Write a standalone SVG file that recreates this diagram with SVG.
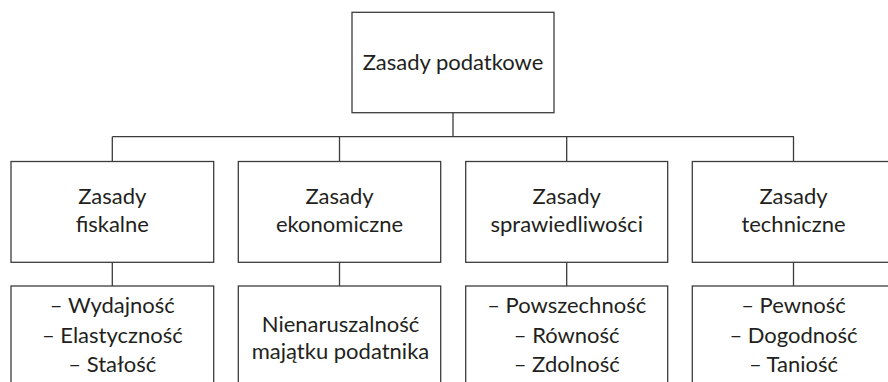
<svg xmlns="http://www.w3.org/2000/svg" width="888" height="382" viewBox="0 0 888 382">
<style>
.box{fill:#fff;stroke:#3c3c3c;stroke-width:1.3}
.ln{fill:none;stroke:#3c3c3c;stroke-width:1.3}
text{font-family:Lato,"Open Sans","Liberation Sans",sans-serif;font-size:22px;fill:#231f20;text-anchor:middle}
</style>
<rect width="888" height="382" fill="#fff"/>
<g id="connectors">
<path class="ln" d="M453,112.7V136.7M112.3,136.7H794M112.3,136.7V161.5M339.5,136.7V161.5M566.7,136.7V161.5M793.5,136.7V161.5"/>
<path class="ln" d="M112.3,262.3V286M339.5,262.3V286M566.7,262.3V286M793.5,262.3V286"/>
</g>
<g id="root">
<rect class="box" x="352" y="12.3" width="202" height="100.4"/>
<text x="453" y="70">Zasady podatkowe</text>
</g>
<g id="fiskalne">
<rect class="box" x="11" y="161.5" width="202.7" height="100.8"/>
<text x="112.3" y="204">Zasady</text>
<text x="112.3" y="232">fiskalne</text>
</g>
<g id="ekonomiczne">
<rect class="box" x="238.3" y="161.5" width="202.4" height="100.8"/>
<text x="339.5" y="204">Zasady</text>
<text x="339.5" y="232">ekonomiczne</text>
</g>
<g id="sprawiedliwosci">
<rect class="box" x="465.7" y="161.5" width="202" height="100.8"/>
<text x="566.7" y="204">Zasady</text>
<text x="566.7" y="232">sprawiedliwości</text>
</g>
<g id="techniczne">
<rect class="box" x="692.3" y="161.5" width="202.5" height="100.8"/>
<text x="793.5" y="204">Zasady</text>
<text x="793.5" y="232">techniczne</text>
</g>
<g id="fiskalne-list">
<rect class="box" x="11" y="286" width="202.7" height="120"/>
<text x="112.3" y="313.3">– Wydajność</text>
<text x="112.3" y="342.5">– Elastyczność</text>
<text x="112.3" y="371.5">– Stałość</text>
</g>
<g id="ekonomiczne-list">
<rect class="box" x="238.3" y="286" width="202.4" height="120"/>
<text x="340.5" y="331.7">Nienaruszalność</text>
<text x="340.5" y="359.3">majątku podatnika</text>
</g>
<g id="sprawiedliwosci-list">
<rect class="box" x="465.7" y="286" width="202" height="120"/>
<text x="566.7" y="313.3">– Powszechność</text>
<text x="566.7" y="342.5">– Równość</text>
<text x="566.7" y="371.5">– Zdolność</text>
</g>
<g id="techniczne-list">
<rect class="box" x="692.3" y="286" width="202.5" height="120"/>
<text x="793.5" y="313.3">– Pewność</text>
<text x="793.5" y="342.5">– Dogodność</text>
<text x="793.5" y="371.5">– Taniość</text>
</g>
</svg>
